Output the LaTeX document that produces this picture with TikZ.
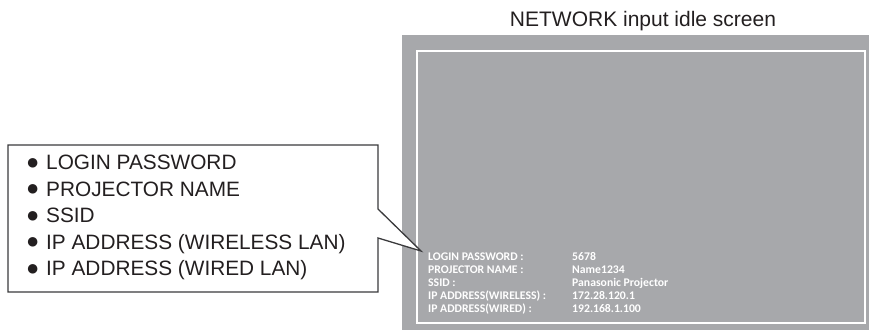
\documentclass[tikz,border=0pt]{standalone}
\usepackage{fontspec}
\setmainfont{Liberation Sans}
\newfontfamily\osdfont{Carlito}
\definecolor{screengrey}{HTML}{A7A8AB}
\definecolor{inkgrey}{HTML}{231F20}
\definecolor{calloutgrey}{HTML}{3A3A3C}
\newcommand{\listdot}{\makebox[20pt][l]{\raisebox{0.5pt}{\fontsize{22}{22}\selectfont ●}}}

\begin{document}
\begin{tikzpicture}[x=1pt,y=-1pt]
	\tikzstyle{every node}+=[inner sep=0pt]
	\tikzstyle{listitem}=[anchor=base west, text=inkgrey, font=\fontsize{20.8}{24}\selectfont]
	\tikzstyle{osdtext}=[anchor=base west, text=white, font=\osdfont\bfseries\fontsize{11.7}{13}\selectfont]
	\useasboundingbox (0,0) rectangle (872,332);
	% screen
	\fill [screengrey] (402,35) rectangle (869,330);
	\draw [white, line width=2pt] (417,51) rectangle (865,323);
	\node [anchor=base, text=inkgrey, font=\fontsize{21}{25}\selectfont] (title) at (643,26) {NETWORK input idle screen};
	% on-screen text
	\node [osdtext] (pwlabel) at (428,260) {LOGIN PASSWORD :};
	\node [osdtext] (namelabel) at (428,273) {PROJECTOR NAME :};
	\node [osdtext] (ssidlabel) at (428,286) {SSID :};
	\node [osdtext] (wlanlabel) at (428,299) {IP ADDRESS(WIRELESS) :};
	\node [osdtext] (lanlabel) at (428,312) {IP ADDRESS(WIRED) :};
	\node [osdtext] (pwvalue) at (572,260) {5678};
	\node [osdtext] (namevalue) at (572,273) {Name1234};
	\node [osdtext] (ssidvalue) at (572,286) {Panasonic Projector};
	\node [osdtext] (wlanvalue) at (572,299) {172.28.120.1};
	\node [osdtext] (lanvalue) at (572,312) {192.168.1.100};
	% callout
	\coordinate (boxnw) at (8,145);
	\coordinate (boxse) at (378,292);
	\coordinate (tip) at (421,251);
	\draw [calloutgrey, line width=1.3pt, fill=white] (boxnw) -- (boxse |- boxnw) -- (378,209) -- (tip) -- (378,238) -- (boxse) -- (boxnw |- boxse) -- cycle;
	\node [listitem] (pwitem) at (26,169.5) {\listdot LOGIN PASSWORD};
	\node [listitem] (nameitem) at (26,196) {\listdot PROJECTOR NAME};
	\node [listitem] (ssiditem) at (26,222.5) {\listdot SSID};
	\node [listitem] (wlanitem) at (26,249) {\listdot IP ADDRESS (WIRELESS LAN)};
	\node [listitem] (lanitem) at (26,275.5) {\listdot IP ADDRESS (WIRED LAN)};
\end{tikzpicture}
\end{document}
